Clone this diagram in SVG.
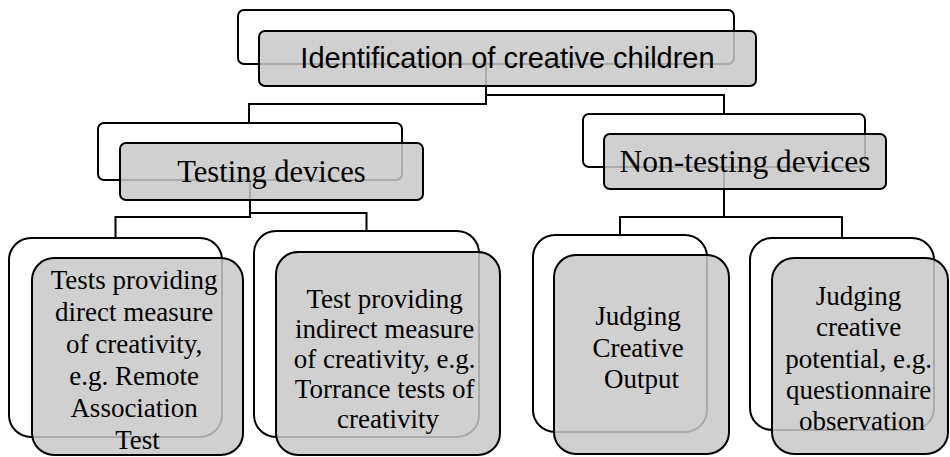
<svg xmlns="http://www.w3.org/2000/svg" width="950" height="457" viewBox="0 0 950 457">
  <style>
    .back { fill: #ffffff; stroke: #000000; stroke-width: 2; }
    .front { fill: #c8c8c8; fill-opacity: 0.85; stroke: #000000; stroke-width: 2; }
    .link { fill: none; stroke: #000000; stroke-width: 2; }
    .sans { font-family: "Liberation Sans", Arial, sans-serif; fill: #000000; text-anchor: middle; }
    .serif, .serif tspan { font-family: "Liberation Serif", "Times New Roman", serif; fill: #000000; text-anchor: middle; }
  </style>
  <rect x="0" y="0" width="950" height="457" fill="#ffffff"/>

  <!-- back plates of every node -->
  <g id="backs">
    <rect class="back" x="238" y="10" width="496" height="54" rx="6"/>
    <rect class="back" x="98" y="123" width="304" height="57" rx="6"/>
    <rect class="back" x="583" y="114" width="282" height="53" rx="6"/>
    <rect class="back" x="9" y="238" width="213" height="199" rx="22"/>
    <rect class="back" x="254" y="231" width="225" height="206" rx="22"/>
    <rect class="back" x="533" y="235" width="174" height="197" rx="22"/>
    <rect class="back" x="750" y="238" width="184" height="192" rx="22"/>
  </g>

  <!-- elbow connectors -->
  <g id="connectors">
    <path class="link" d="M486,64 V104 H249 V123"/>
    <path class="link" d="M486,64 V95 H724 V114"/>
    <path class="link" d="M250,180 V217 H115.5 V238"/>
    <path class="link" d="M250,180 V213 H366.5 V231"/>
    <path class="link" d="M724,167 V217 H620 V235"/>
    <path class="link" d="M724,167 V217 H842 V238"/>
  </g>

  <g id="root">
    <rect class="front" x="259" y="31" width="497" height="55" rx="6"/>
    <text class="sans" x="507.5" y="68" font-family="Liberation Sans, Arial, sans-serif" font-size="29">Identification of creative children</text>
  </g>

  <g id="testing">
    <rect class="front" x="120" y="143" width="303" height="57" rx="6"/>
    <text class="serif" x="271.5" y="182" font-family="Liberation Serif, Times New Roman, serif" font-size="30.5">Testing devices</text>
  </g>

  <g id="non-testing">
    <rect class="front" x="604" y="134" width="282" height="55" rx="6"/>
    <text class="serif" x="745" y="172" font-family="Liberation Serif, Times New Roman, serif" font-size="31.5">Non-testing devices</text>
  </g>

  <g id="direct">
    <rect class="front" x="32" y="258" width="211" height="197" rx="22"/>
    <text class="serif" font-family="Liberation Serif, Times New Roman, serif" font-size="27">
      <tspan x="137.5" y="289">Tests providing</tspan>
      <tspan x="137.5" y="321">direct measure</tspan>
      <tspan x="137.5" y="353">of creativity,</tspan>
      <tspan x="137.5" y="385">e.g. Remote</tspan>
      <tspan x="137.5" y="417">Association</tspan>
      <tspan x="137.5" y="449">Test</tspan>
    </text>
  </g>

  <g id="indirect">
    <rect class="front" x="276" y="252" width="224" height="203" rx="22"/>
    <text class="serif" font-family="Liberation Serif, Times New Roman, serif" font-size="27">
      <tspan x="388" y="308">Test providing</tspan>
      <tspan x="388" y="338">indirect measure</tspan>
      <tspan x="388" y="368">of creativity, e.g.</tspan>
      <tspan x="388" y="398">Torrance tests of</tspan>
      <tspan x="388" y="428">creativity</tspan>
    </text>
  </g>

  <g id="output">
    <rect class="front" x="554" y="255" width="175" height="199" rx="22"/>
    <text class="serif" font-family="Liberation Serif, Times New Roman, serif" font-size="27">
      <tspan x="641.5" y="325">Judging</tspan>
      <tspan x="641.5" y="357">Creative</tspan>
      <tspan x="641.5" y="388">Output</tspan>
    </text>
  </g>

  <g id="potential">
    <rect class="front" x="772" y="258" width="176" height="196" rx="22"/>
    <text class="serif" font-family="Liberation Serif, Times New Roman, serif" font-size="27">
      <tspan x="862" y="305">Judging</tspan>
      <tspan x="862" y="336">creative</tspan>
      <tspan x="862" y="368">potential, e.g.</tspan>
      <tspan x="862" y="399">questionnaire</tspan>
      <tspan x="862" y="430">observation</tspan>
    </text>
  </g>
</svg>
